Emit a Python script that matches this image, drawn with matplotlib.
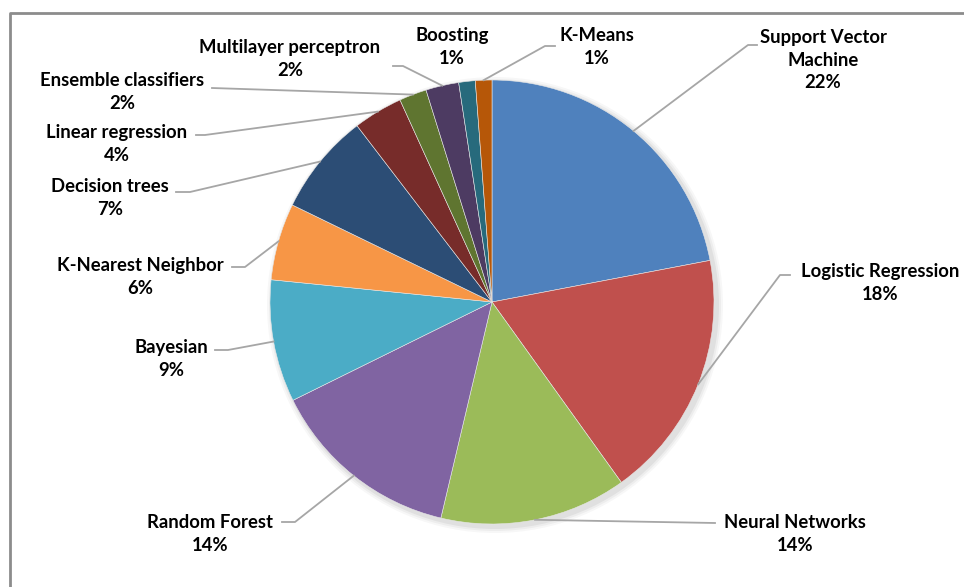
import numpy as np
import matplotlib
matplotlib.use('Agg')
import matplotlib.pyplot as plt
from matplotlib.patches import Circle

# ---- data (share of studies per method) ----
methods = ['Support Vector\nMachine', 'Logistic Regression', 'Neural Networks',
           'Random Forest', 'Bayesian', 'K-Nearest Neighbor', 'Decision trees',
           'Linear regression', 'Ensemble classifiers', 'Multilayer perceptron',
           'Boosting', 'K-Means']
shares = [22.0, 18.1, 13.6, 14.0, 8.9, 5.6, 7.4, 3.6, 2.0, 2.4, 1.2, 1.2]
colors = ['#4F81BD', '#C0504D', '#9BBB59', '#8064A2', '#4BACC6', '#F79646',
          '#2C4D75', '#772C2A', '#5F7530', '#4D3B62', '#276A7C', '#B65708']

# ---- layout (pixel coords, y from top) ----
W, H = 964, 587
CX, CY, R = 492, 302, 222
# text centre of first line, leader elbow, leader tail (None = no leader)
text_xy = [(823, 34), (880, 270), (795, 521), (210, 521), (171, 346), (140, 264),
           (110, 185), (117, 131), (122, 79), (290, 46), (452, 34), (597, 34)]
elbow = [(748, 45), (780, 275), (715, 523), (295, 522), (228, 350), (245, 267),
         (190, 192), (205, 135), (212, 88), (403, 66), None, (545, 46)]
tail = [(757, 45), (790, 275), (715, 523), (282, 522), (215, 350), (232, 267),
        (176, 192), (196, 135), (212, 88), (393, 66), None, (555, 46)]
LINE_H = 26

plt.rcParams['font.family'] = ['Lato', 'DejaVu Sans']
fig = plt.figure(figsize=(W / 100, H / 100), dpi=100)
ax = fig.add_axes([0, 0, 1, 1])

def fy(y):
    return H - y

# soft shadow behind the pie
for k, a in [(6, 0.03), (4, 0.04), (2, 0.05)]:
    ax.add_patch(Circle((CX + 3, fy(CY) - 3), R + k, color='black', alpha=a, lw=0, zorder=1))

wedges, _ = ax.pie(shares, colors=colors, startangle=90, counterclock=False,
                   center=(CX, fy(CY)), radius=R, frame=True,
                   wedgeprops=dict(linewidth=0.4, edgecolor='#e8e8e8'))
for w in wedges:
    w.set_zorder(2)
ax.set_xlim(0, W); ax.set_ylim(0, H)
ax.set_aspect('equal'); ax.axis('off')

for i, w in enumerate(wedges):
    pct = f'{round(shares[i])}%'
    text = methods[i] + '\n' + pct
    n = text.count('\n')
    tx, ty = text_xy[i]
    # text_xy is the centre of the first line; shift to block centre
    ax.text(tx, fy(ty + n * LINE_H / 2), text, ha='center', va='center',
            fontsize=13.3, fontweight='bold', color='black', linespacing=1.38)
    if elbow[i] is None:
        continue
    mid = np.deg2rad((w.theta1 + w.theta2) / 2)
    sx, sy = CX + R * np.cos(mid), fy(CY) + R * np.sin(mid)
    ex, ey = elbow[i]
    hx, hy = tail[i]
    ax.plot([sx, ex, hx], [sy, fy(ey), fy(hy)], color='#A6A6A6', lw=1.3, zorder=3)

# chart frame (only the top and left edges fall inside the image)
ax.plot([10, 10, W], [0, fy(13), fy(13)], color='#8C8C8C', lw=2, zorder=4)

fig.savefig('out.png', dpi=100)
